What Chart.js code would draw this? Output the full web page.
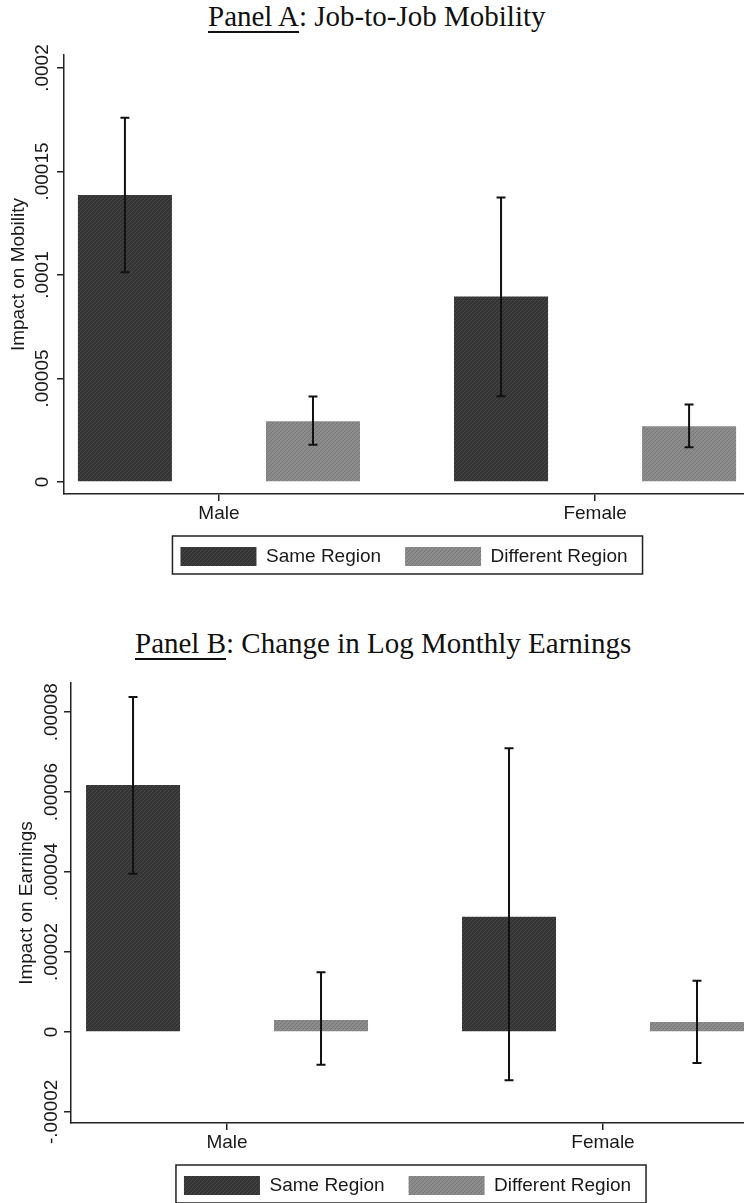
<!DOCTYPE html>
<html>
<head>
<meta charset="utf-8">
<script src="https://cdn.jsdelivr.net/npm/chart.js@4.4.1/dist/chart.umd.min.js"></script>
<style>
  html, body { margin: 0; padding: 0; background: #fff; }
  body { width: 744px; height: 1203px; overflow: hidden; position: relative; }
  .ptitle {
    position: absolute;
    font-family: 'Liberation Serif', 'Times New Roman', serif;
    font-size: 29px;
    line-height: 29px;
    color: #111;
    white-space: nowrap;
  }
  .ptitle u {
    text-decoration: underline;
    text-underline-offset: 5px;
    text-decoration-thickness: 1.5px;
  }
  .panel { position: absolute; left: 0; width: 744px; }
</style>
</head>
<body>
<div class="ptitle" style="left:208px; top:2px;"><u>Panel A</u>: Job-to-Job Mobility</div>
<div class="panel" style="top:40px;"><canvas id="mobilityChart" width="744" height="560"></canvas></div>

<div class="ptitle" style="left:135px; top:629px;"><u>Panel B</u>: Change in Log Monthly Earnings</div>
<div class="panel" style="top:668px;"><canvas id="earningsChart" width="744" height="540"></canvas></div>

<script>
// Groups and series
const categories = ['Male', 'Female'];
const seriesNames = ['Same Region', 'Different Region'];

// Panel A: job-to-job mobility (point estimate, 95% CI)
const mobSame = [0.0001386, 0.0000896];
const mobSameLo = [0.0001013, 0.0000414];
const mobSameHi = [0.000176, 0.0001375];
const mobDiff = [0.0000294, 0.0000269];
const mobDiffLo = [0.000018, 0.0000168];
const mobDiffHi = [0.0000413, 0.0000375];
const mobTicks = [0, 0.00005, 0.0001, 0.00015, 0.0002];
const mobTickLabels = ['0', '.00005', '.0001', '.00015', '.0002'];

// Panel B: change in log monthly earnings
const earnSame = [0.0000618, 0.0000288];
const earnSameLo = [0.0000396, -0.0000121];
const earnSameHi = [0.0000838, 0.000071];
const earnDiff = [0.000003, 0.0000025];
const earnDiffLo = [-0.0000082, -0.0000078];
const earnDiffHi = [0.0000149, 0.0000128];
const earnTicks = [-0.00002, 0, 0.00002, 0.00004, 0.00006, 0.00008];
const earnTickLabels = ['-.00002', '0', '.00002', '.00004', '.00006', '.00008'];

Chart.defaults.font.family = "'Liberation Sans', Arial, Helvetica, sans-serif";
Chart.defaults.font.size = 19;
Chart.defaults.color = '#1a1a1a';

// fine diagonal texture like the printed bars
function hatch(base, line) {
  const c = document.createElement('canvas');
  c.width = 4; c.height = 4;
  const g = c.getContext('2d');
  g.fillStyle = base;
  g.fillRect(0, 0, 4, 4);
  g.fillStyle = line;
  for (let i = 0; i < 4; i++) g.fillRect(i, 3 - i, 1, 1);
  return g.createPattern(c, 'repeat');
}

const sameFill = hatch('#343434', '#474747');
const diffFill = hatch('#8c8c8c', '#777777');

// vertical CI whiskers with short caps
const errorBars = {
  id: 'errorBars',
  afterDatasetsDraw(chart) {
    const ctx = chart.ctx;
    const y = chart.scales.y;
    ctx.save();
    ctx.strokeStyle = '#111';
    ctx.lineWidth = 2;
    chart.data.datasets.forEach((ds, i) => {
      chart.getDatasetMeta(i).data.forEach((bar, j) => {
        const top = y.getPixelForValue(ds.hi[j]);
        const bot = y.getPixelForValue(ds.lo[j]);
        ctx.beginPath();
        ctx.moveTo(bar.x, top); ctx.lineTo(bar.x, bot);
        ctx.moveTo(bar.x - 4.5, top); ctx.lineTo(bar.x + 4.5, top);
        ctx.moveTo(bar.x - 4.5, bot); ctx.lineTo(bar.x + 4.5, bot);
        ctx.stroke();
      });
    });
    ctx.restore();
  }
};

// box around the legend entries
const legendFrame = {
  id: 'legendFrame',
  afterDraw(chart) {
    const hb = chart.legend.legendHitBoxes;
    if (!hb || !hb.length) return;
    const first = hb[0], last = hb[hb.length - 1];
    const left = first.left - 8;
    const right = last.left + last.width + 15;
    const top = first.top - 11;
    const bottom = first.top + first.height + 8;
    const ctx = chart.ctx;
    ctx.save();
    ctx.strokeStyle = '#222';
    ctx.lineWidth = 1.5;
    ctx.strokeRect(left, top, right - left, bottom - top);
    ctx.restore();
  }
};

function makePanel(id, p) {
  const xs = categories.map((c, i) => i + 1);
  new Chart(document.getElementById(id), {
    type: 'bar',
    data: {
      datasets: [
        {
          label: seriesNames[0],
          data: p.same.map((v, i) => ({ x: xs[i], y: v })),
          lo: p.sameLo, hi: p.sameHi,
          backgroundColor: sameFill,
          borderWidth: 0
        },
        {
          label: seriesNames[1],
          data: p.diff.map((v, i) => ({ x: xs[i], y: v })),
          lo: p.diffLo, hi: p.diffHi,
          backgroundColor: diffFill,
          borderWidth: 0
        }
      ]
    },
    options: {
      responsive: false,
      animation: false,
      categoryPercentage: 1,
      barPercentage: 0.5,
      layout: { padding: { top: 15, left: 0, right: 0, bottom: p.padBottom } },
      plugins: {
        tooltip: { enabled: false },
        legend: {
          position: 'bottom',
          fullSize: false,
          labels: { boxWidth: 76, boxHeight: 19, padding: 24, color: '#1a1a1a' }
        }
      },
      scales: {
        x: {
          type: 'linear',
          offset: false,
          min: p.xMin,
          max: p.xMax,
          afterBuildTicks: s => { s.ticks = xs.map(v => ({ value: v })); },
          afterFit: s => { s.height = 29; },
          ticks: { padding: 3, font: { lineHeight: 1 }, callback: v => categories[v - 1] },
          grid: { display: true, offset: false, drawOnChartArea: false, tickLength: 7, color: '#222', lineWidth: 1.5 },
          border: { display: true, color: '#222', width: 1.5 }
        },
        y: {
          min: p.yMin,
          max: p.yMax,
          afterBuildTicks: s => { s.ticks = p.ticks.map(v => ({ value: v })); },
          afterFit: s => { s.width = p.axisX; },
          ticks: {
            minRotation: 90,
            maxRotation: 90,
            crossAlign: 'center',
            padding: p.tickPad,
            callback: v => p.tickLabels[p.ticks.findIndex(t => Math.abs(t - v) < 1e-12)]
          },
          grid: { display: true, drawOnChartArea: false, tickLength: 7, color: '#222', lineWidth: 1.5 },
          border: { display: true, color: '#222', width: 1.5 },
          title: { display: true, text: p.yTitle, padding: { top: p.titlePad, bottom: 0 }, color: '#1a1a1a' }
        }
      }
    },
    plugins: [errorBars, legendFrame]
  });
}

makePanel('mobilityChart', {
  same: mobSame, sameLo: mobSameLo, sameHi: mobSameHi,
  diff: mobDiff, diffLo: mobDiffLo, diffHi: mobDiffHi,
  ticks: mobTicks, tickLabels: mobTickLabels,
  yMin: -0.0000058, yMax: 0.0002063,
  xMin: 0.588, xMax: 2.396,
  axisX: 64, tickPad: -15, titlePad: 7.6,
  yTitle: 'Impact on Mobility',
  padBottom: 24
});

makePanel('earningsChart', {
  same: earnSame, sameLo: earnSameLo, sameHi: earnSameHi,
  diff: earnDiff, diffLo: earnDiffLo, diffHi: earnDiffHi,
  ticks: earnTicks, tickLabels: earnTickLabels,
  yMin: -0.0000228, yMax: 0.0000873,
  xMin: 0.585, xMax: 2.375,
  axisX: 71, tickPad: -19.7, titlePad: 15.6,
  yTitle: 'Impact on Earnings',
  padBottom: 3
});
</script>
</body>
</html>
